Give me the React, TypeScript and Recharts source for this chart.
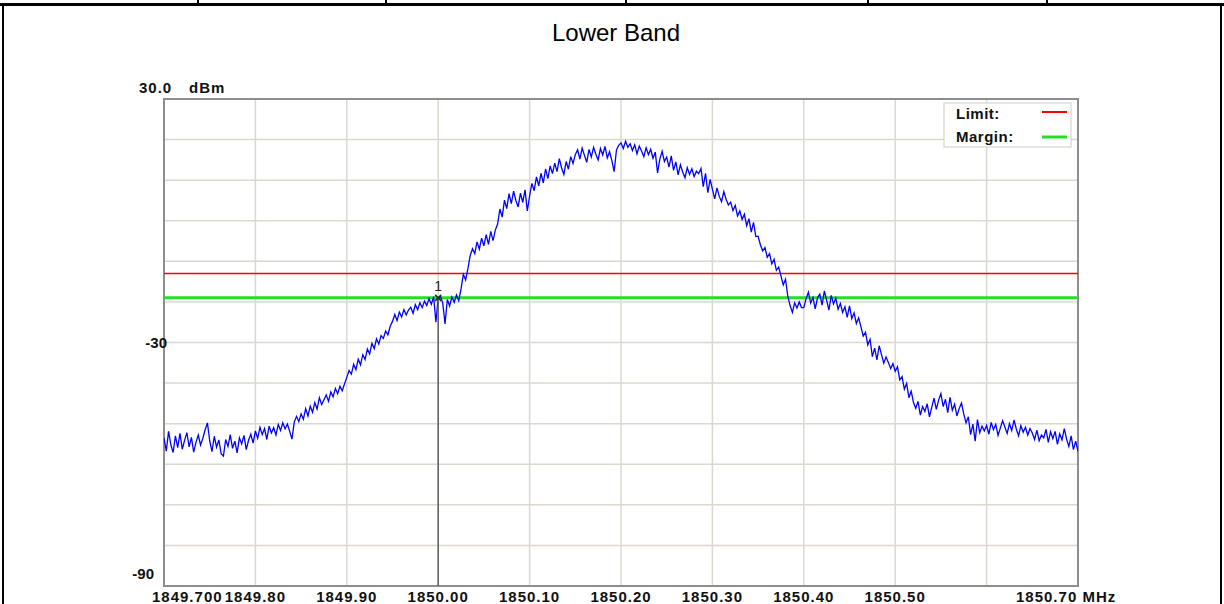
import React from "react";
import {
  LineChart,
  Line,
  XAxis,
  YAxis,
  CartesianGrid,
  ReferenceLine,
  ReferenceDot,
  ReferenceArea,
} from "recharts";

const title = "Lower Band";
const startFreq = 1849.7;
const freqStep = 0.0025;

// Measured trace level (dBm), one value per sweep point from 1849.700 to 1850.700 MHz
const traceDbm: number[] = [
  -53.5, -56.8, -51.9, -55.2, -57.1, -53.0, -55.9, -52.4, -56.3, -54.1, -52.2, -55.7, -53.4, -57.0, -54.6, -52.8, -55.3, -53.6, -51.5, -49.8,
  -54.2, -56.9, -53.1, -55.8, -54.0, -57.4, -58.0, -53.9, -55.6, -52.7, -56.1, -54.3, -57.2, -53.5, -55.0, -52.9, -56.4, -54.1, -52.6, -54.8,
  -51.8, -53.6, -50.9, -52.7, -51.2, -53.9, -50.6, -52.3, -51.0, -52.8, -50.2, -51.7, -49.8, -51.3, -50.1, -51.9, -53.8, -49.6, -48.2, -49.5,
  -47.6, -48.9, -46.3, -48.1, -45.7, -47.2, -44.8, -46.4, -43.6, -45.3, -44.1, -42.9, -44.5, -42.2, -43.4, -41.3, -42.6, -40.8, -41.9, -40.2,
  -38.6, -36.9, -37.8, -35.4, -36.7, -34.1, -35.5, -33.0, -34.2, -31.6, -32.8, -30.2, -31.5, -29.1, -30.4, -28.3, -29.0, -27.2, -28.1, -26.0,
  -24.8, -23.1, -24.6, -22.5, -23.7, -21.9, -23.2, -22.0, -21.3, -22.8, -20.7, -21.9, -20.2, -21.4, -19.8, -20.9, -19.2, -20.6, -18.7, -25.0,
  -19.0, -18.6, -20.3, -25.4, -19.4, -21.0, -18.8, -20.1, -18.3, -19.7, -16.8, -13.2, -14.6, -11.8, -8.6, -6.9, -8.1, -5.2, -7.0, -4.3,
  -6.2, -3.4, -5.8, -2.6, -4.9, -2.3, -0.8, 2.9, 0.9, 5.1, 3.0, 6.7, 4.2, 7.3, 5.0, 3.4, 6.8, 4.5, 7.6, 2.4,
  6.1, 9.2, 7.4, 10.8, 8.6, 11.7, 9.3, 12.8, 10.4, 13.5, 11.6, 14.2, 12.1, 15.3, 13.0, 11.4, 14.6, 12.7, 15.8, 14.1,
  16.3, 17.5, 15.2, 17.9, 16.1, 14.4, 17.6, 15.7, 18.1, 16.4, 15.0, 17.8, 16.2, 18.3, 15.5, 17.0, 14.8, 12.1, 17.4, 18.6,
  19.2, 17.8, 19.6, 18.1, 19.0, 17.3, 18.7, 16.5, 18.4, 17.2, 15.8, 18.0, 16.3, 17.6, 15.4, 16.9, 11.8, 15.2, 17.1, 14.6,
  15.7, 13.2, 16.0, 12.4, 14.5, 11.3, 13.8, 12.0, 10.6, 13.1, 11.4, 12.8, 10.9, 12.2, 11.6, 12.9, 8.4, 11.7, 6.9, 10.2,
  7.8, 5.4, 8.1, 6.0, 4.7, 7.2, 5.3, 3.9, 4.6, 2.5, 3.8, 1.2, 2.4, 0.3, 1.6, -1.2, 0.5, -2.8, -0.4, -3.9,
  -3.8, -5.9, -7.4, -6.6, -9.0, -8.1, -10.6, -9.5, -12.2, -11.4, -13.6, -15.8, -14.4, -18.6, -20.9, -22.6, -20.2, -21.5, -20.0, -21.4,
  -21.4, -19.2, -17.6, -20.3, -18.9, -21.7, -19.0, -18.1, -20.8, -17.3, -19.6, -22.0, -18.4, -20.5, -19.1, -21.8, -20.4, -22.6, -21.2, -23.8,
  -21.0, -24.1, -22.7, -25.3, -23.9, -26.1, -28.4, -27.5, -30.6, -29.2, -33.5, -31.4, -34.3, -30.8, -33.0, -35.1, -33.6, -34.9, -36.4, -35.2,
  -37.1, -36.0, -39.2, -38.4, -41.5, -40.1, -43.6, -42.0, -44.8, -46.2, -44.5, -47.9, -45.8, -47.0, -45.1, -48.3, -46.0, -43.7, -46.5, -44.2,
  -42.6, -45.8, -44.0, -47.3, -43.5, -46.7, -45.2, -48.1, -46.3, -44.9, -47.6, -49.8, -48.3, -52.7, -50.1, -54.3, -49.0, -52.2, -50.6, -51.8,
  -50.4, -52.6, -49.7, -51.5, -50.2, -52.9, -51.1, -49.3, -50.8, -52.4, -50.0, -51.7, -49.1, -51.3, -53.0, -50.5, -52.1, -50.9, -52.8, -51.2,
  -52.3, -53.9, -51.6, -54.2, -52.8, -53.5, -51.4, -54.6, -52.0, -53.7, -51.9, -55.1, -52.5, -54.0, -51.2, -53.8, -55.6, -53.0, -56.4, -54.3,
  -56.8,
];

const xTicks = [1849.7, 1849.8, 1849.9, 1850.0, 1850.1, 1850.2, 1850.3, 1850.4, 1850.5, 1850.6, 1850.7];
const xTickLabels = ["1849.700", "1849.80", "1849.90", "1850.00", "1850.10", "1850.20", "1850.30", "1850.40", "1850.50", "", "1850.70 MHz"];
const yTicks = [30, 20, 10, 0, -10, -20, -30, -40, -50, -60, -70, -80, -90];
const yTickLabels = ["30.0", "", "", "", "", "", "-30", "", "", "", "", "", "-90"];
const yUnit = "dBm";

const limitDbm = -13;
const marginDbm = -19;
const markerFreq = 1850.0;
const markerLabel = "1";

const legendItems = [
  { name: "Limit:", color: "#ff0000", width: 2 },
  { name: "Margin:", color: "#22e022", width: 3 },
];

const data = traceDbm.map((v, i) => ({
  freq: Number((startFreq + i * freqStep).toFixed(4)),
  dbm: v,
}));
const markerValue = traceDbm[Math.round((markerFreq - startFreq) / freqStep)];

const FONT = "'Liberation Sans', Arial, sans-serif";
const labelStyle = {
  fontFamily: FONT,
  fontWeight: 700,
  fontSize: 15,
  fill: "#111",
} as const;

const XTick = (props: any) => {
  const { x, payload } = props;
  const idx = xTicks.findIndex((t) => Math.abs(t - payload.value) < 1e-6);
  const label = idx >= 0 ? xTickLabels[idx] : "";
  if (!label) return <g />;
  if (idx === 0) {
    return (
      <text x={x - 12} y={602} textAnchor="start" letterSpacing={1} {...labelStyle}>
        {label}
      </text>
    );
  }
  if (idx === xTicks.length - 1) {
    return (
      <text x={x - 62} y={602} textAnchor="start" letterSpacing={1} {...labelStyle}>
        {label}
      </text>
    );
  }
  return (
    <text x={x} y={602} textAnchor="middle" letterSpacing={1} {...labelStyle}>
      {label}
    </text>
  );
};

const YTick = (props: any) => {
  const { x, y, payload } = props;
  const idx = yTicks.findIndex((t) => Math.abs(t - payload.value) < 1e-6);
  const label = idx >= 0 ? yTickLabels[idx] : "";
  if (!label) return <g />;
  if (idx === 0) {
    return (
      <g>
        <text x={x - 25} y={y - 6} textAnchor="start" letterSpacing={1} {...labelStyle}>
          {label}
        </text>
        <text x={x + 25} y={y - 6} textAnchor="start" letterSpacing={1} {...labelStyle}>
          {yUnit}
        </text>
      </g>
    );
  }
  if (idx === yTicks.length - 1) {
    return (
      <text x={x - 10} y={y - 7} textAnchor="end" {...labelStyle}>
        {label}
      </text>
    );
  }
  return (
    <text x={x + 3} y={y + 5} textAnchor="end" {...labelStyle}>
      {label}
    </text>
  );
};

const MarkerShape = (p: any) => {
  const { cx, cy } = p;
  return (
    <g>
      <path
        d={`M${cx - 3},${cy - 3}L${cx + 3},${cy + 3}M${cx + 3},${cy - 3}L${cx - 3},${cy + 3}`}
        stroke="#203020"
        strokeWidth={1.5}
      />
      <text x={cx} y={cy - 7} textAnchor="middle" fontFamily={FONT} fontSize={14} fill="#222">
        {markerLabel}
      </text>
    </g>
  );
};

export default function App() {
  return (
    <div
      style={{
        position: "absolute",
        left: 0,
        top: 0,
        width: 1224,
        height: 604,
        background: "#fff",
        overflow: "hidden",
      }}
    >
      <LineChart
        width={1224}
        height={604}
        data={data}
        margin={{ top: 99, right: 146, bottom: 0, left: 0 }}
      >
        <CartesianGrid stroke="#dcd8d0" strokeWidth={1.5} />
        <XAxis
          dataKey="freq"
          type="number"
          domain={[1849.7, 1850.7]}
          ticks={xTicks}
          interval={0}
          height={18}
          tick={XTick}
          tickLine={false}
          axisLine={false}
          allowDataOverflow
        />
        <YAxis
          type="number"
          domain={[-90, 30]}
          ticks={yTicks}
          interval={0}
          width={164}
          tickSize={0}
          tickMargin={0}
          tick={YTick}
          tickLine={false}
          axisLine={false}
          allowDataOverflow
        />
        <ReferenceLine y={limitDbm} stroke="#ff0000" strokeWidth={1.5} />
        <ReferenceLine y={marginDbm} stroke="#22e022" strokeWidth={3} />
        <Line
          dataKey="dbm"
          stroke="#0000ff"
          strokeWidth={1.3}
          dot={false}
          isAnimationActive={false}
        />
        <ReferenceLine
          segment={[
            { x: markerFreq, y: markerValue },
            { x: markerFreq, y: -90 },
          ]}
          stroke="#606060"
          strokeWidth={1.5}
        />
        <ReferenceDot x={markerFreq} y={markerValue} shape={MarkerShape} />
        <ReferenceArea
          x1={1849.7}
          x2={1850.7}
          y1={-90}
          y2={30}
          fill="none"
          fillOpacity={0}
          stroke="#8e8e8e"
          strokeWidth={2}
        />
      </LineChart>
      <svg
        width={1224}
        height={604}
        style={{ position: "absolute", left: 0, top: 0, pointerEvents: "none" }}
      >
        <rect x={0} y={3} width={1224} height={3} fill="#000" />
        <rect x={2} y={3} width={2} height={601} fill="#000" />
        <rect x={1220} y={3} width={2} height={601} fill="#000" />
        {[197, 385, 625, 867, 1046].map((x) => (
          <rect key={x} x={x} y={0} width={2} height={4} fill="#000" />
        ))}
        <text x={616} y={41} textAnchor="middle" fontFamily={FONT} fontSize={24} fill="#000">
          {title}
        </text>
        <rect x={944} y={103} width={127} height={44} fill="#fff" stroke="#d0ccc4" strokeWidth={1} />
        {legendItems.map((it, i) => (
          <g key={it.name}>
            <text x={956} y={119 + i * 23} {...labelStyle} letterSpacing={0.5}>
              {it.name}
            </text>
            <line
              x1={1042}
              x2={1067}
              y1={112 + i * 25}
              y2={112 + i * 25}
              stroke={it.color}
              strokeWidth={it.width}
            />
          </g>
        ))}
      </svg>
    </div>
  );
}
